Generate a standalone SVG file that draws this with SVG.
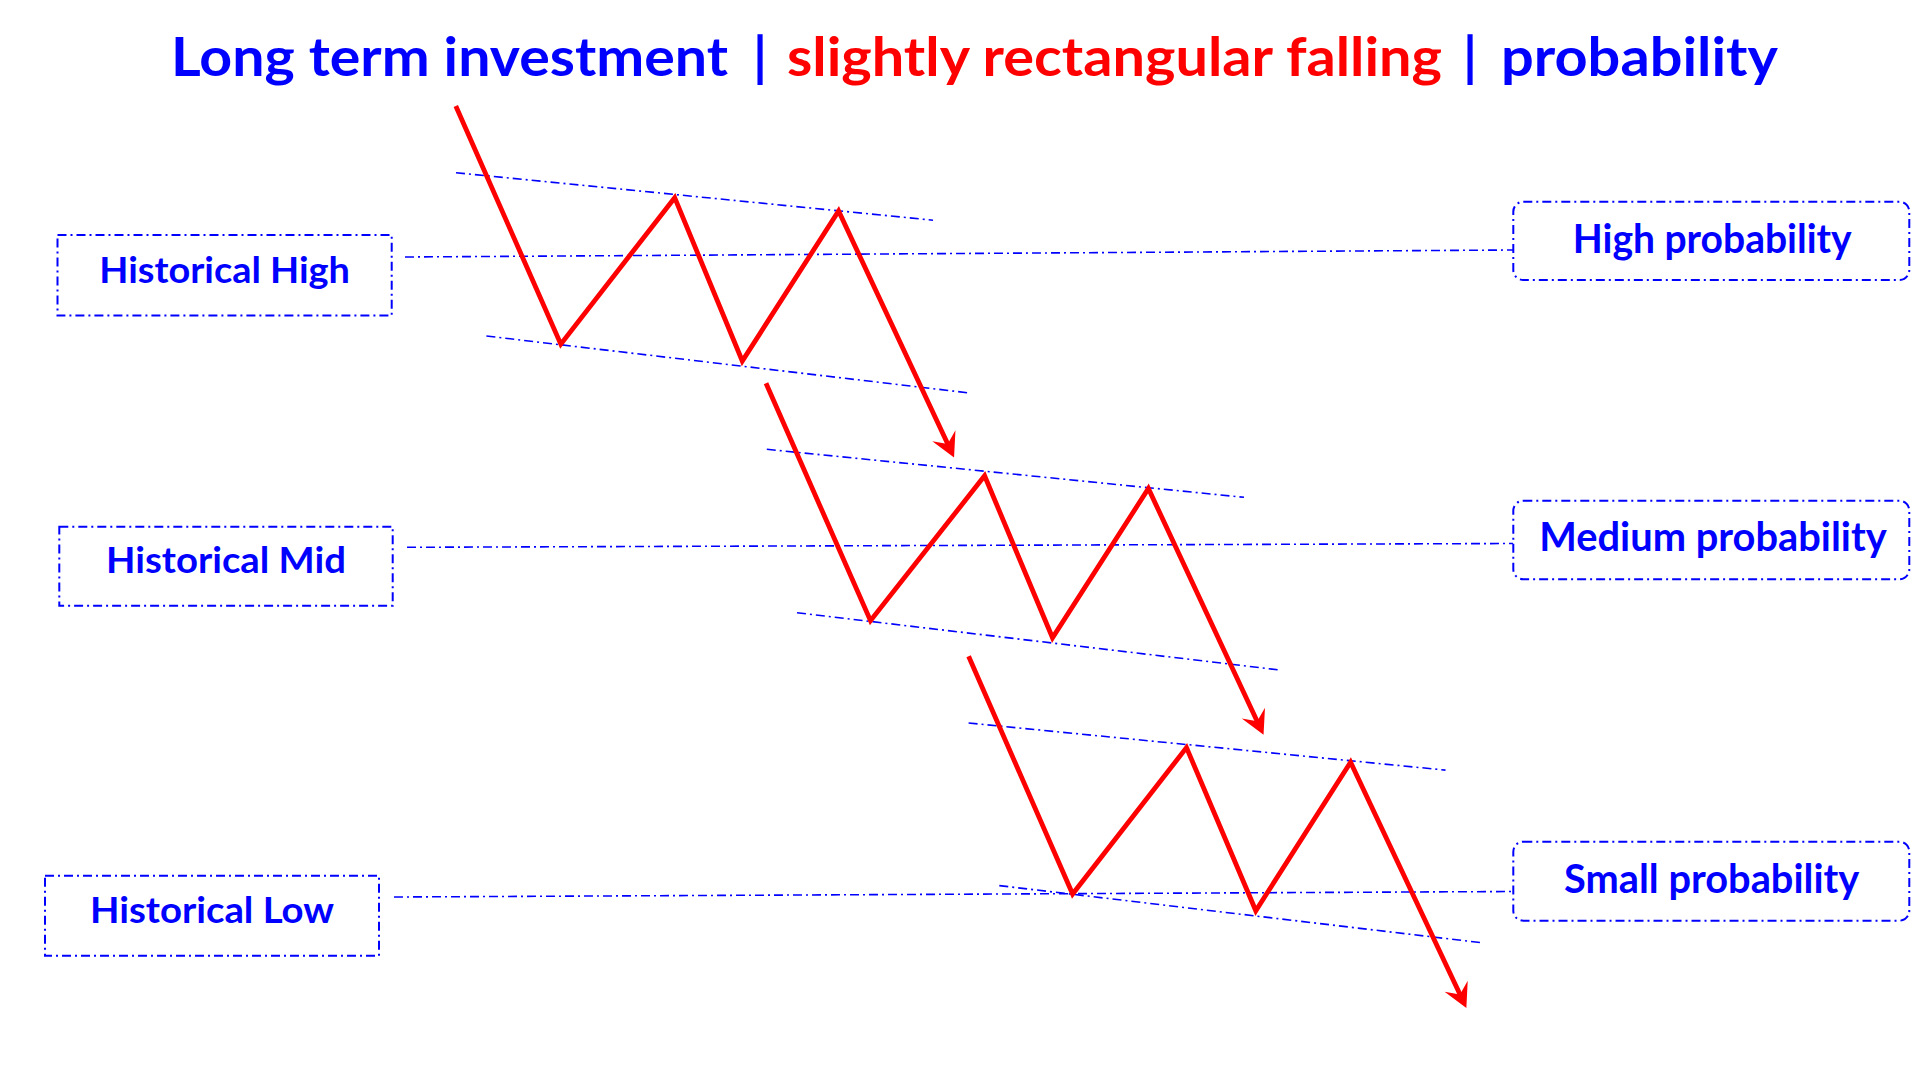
<svg xmlns="http://www.w3.org/2000/svg" width="1920" height="1080" viewBox="0 0 1920 1080">
<style>
  .title { font-family: Lato, "Open Sans", "Liberation Sans", sans-serif; font-weight: bold; font-size: 54px; }
  .blue { fill: #0000FF; }
  .red { fill: #FF0000; }
  .label { font-family: Lato, "Open Sans", "Liberation Sans", sans-serif; font-weight: bold; fill: #0000FF; text-anchor: start; }
  .left { font-size: 36px; }
  .right { font-size: 40px; }
  .box { fill: #FFFFFF; stroke: #0000FF; stroke-width: 2; stroke-dasharray: 9 4 2 4; }
  .ref { fill: none; stroke: #0000FF; stroke-width: 1.6; stroke-dasharray: 9 4 2 4; }
  .chan { fill: none; stroke: #0000FF; stroke-width: 1.6; stroke-dasharray: 9 4 2 4; }
  .price { fill: none; stroke: #FF0000; stroke-width: 4.8; stroke-linejoin: miter; stroke-linecap: butt; }
</style>
<defs>
  <marker id="arrow" markerUnits="userSpaceOnUse" viewBox="-20 -14 28 28" refX="0" refY="0" markerWidth="28" markerHeight="28" orient="auto">
    <path d="M6,0 L-18,-12.8 L-9,0 L-18,12.8 Z" fill="#FF0000"/>
  </marker>
</defs>
<rect x="0" y="0" width="1920" height="1080" fill="#FFFFFF"/>

<g id="title">
  <text class="title blue" x="171" y="76" textLength="557" lengthAdjust="spacingAndGlyphs">Long term investment</text>
  <text class="title blue" x="753" y="76">|</text>
  <text class="title red" x="787" y="76" textLength="655" lengthAdjust="spacingAndGlyphs">slightly rectangular falling</text>
  <text class="title blue" x="1463" y="76">|</text>
  <text class="title blue" x="1501" y="76" textLength="277" lengthAdjust="spacingAndGlyphs">probability</text>
</g>

<g id="connectors">
  <line class="ref" x1="405" y1="257" x2="1513" y2="250"/>
  <line class="ref" x1="407" y1="547.3" x2="1513" y2="543.5"/>
  <line class="ref" x1="394" y1="897" x2="1513" y2="891.5"/>
</g>

<g id="channels">
  <line class="chan" x1="456" y1="172.7" x2="933" y2="220.2"/>
  <line class="chan" x1="486.4" y1="336" x2="968" y2="392.8"/>
  <line class="chan" x1="766.8" y1="449.3" x2="1244" y2="497.3"/>
  <line class="chan" x1="797" y1="612.7" x2="1279.5" y2="670"/>
  <line class="chan" x1="968.6" y1="723" x2="1445.5" y2="770.1"/>
  <line class="chan" x1="999.3" y1="885.6" x2="1482" y2="942.8"/>
</g>

<g id="price-path-1">
  <polyline class="price" points="455.8,106 560.8,344.1 674.7,197.7 742.3,361 838.6,211 951.5,452.1" marker-end="url(#arrow)"/>
</g>
<g id="price-path-2">
  <polyline class="price" points="766,383.3 870.5,620.7 984.6,475.8 1052.5,637.8 1148.4,488.5 1261,729.4" marker-end="url(#arrow)"/>
</g>
<g id="price-path-3">
  <polyline class="price" points="968.6,656.2 1072.6,894 1186.5,747.6 1255.8,910.8 1350.6,762.2 1463.8,1002.6" marker-end="url(#arrow)"/>
</g>

<g id="historical-high">
  <rect class="box" x="57.5" y="235" width="334.2" height="80.5"/>
  <text class="label left" x="99.3" y="283" textLength="250.7" lengthAdjust="spacingAndGlyphs">Historical High</text>
</g>
<g id="historical-mid">
  <rect class="box" x="59.3" y="526.7" width="333.4" height="79"/>
  <text class="label left" x="106" y="573.3" textLength="240" lengthAdjust="spacingAndGlyphs">Historical Mid</text>
</g>
<g id="historical-low">
  <rect class="box" x="45" y="875.7" width="334" height="80"/>
  <text class="label left" x="90" y="923.3" textLength="244" lengthAdjust="spacingAndGlyphs">Historical Low</text>
</g>

<g id="high-probability">
  <rect class="box" x="1513.3" y="201.7" width="396" height="78.3" rx="10" ry="10"/>
  <text class="label right" x="1572.7" y="252.7" textLength="279" lengthAdjust="spacingAndGlyphs">High probability</text>
</g>
<g id="medium-probability">
  <rect class="box" x="1513.3" y="500.7" width="396" height="78.6" rx="10" ry="10"/>
  <text class="label right" x="1539.3" y="551" textLength="347.4" lengthAdjust="spacingAndGlyphs">Medium probability</text>
</g>
<g id="small-probability">
  <rect class="box" x="1513.3" y="841.7" width="396" height="79" rx="10" ry="10"/>
  <text class="label right" x="1564" y="892.7" textLength="295.3" lengthAdjust="spacingAndGlyphs">Small probability</text>
</g>
</svg>
